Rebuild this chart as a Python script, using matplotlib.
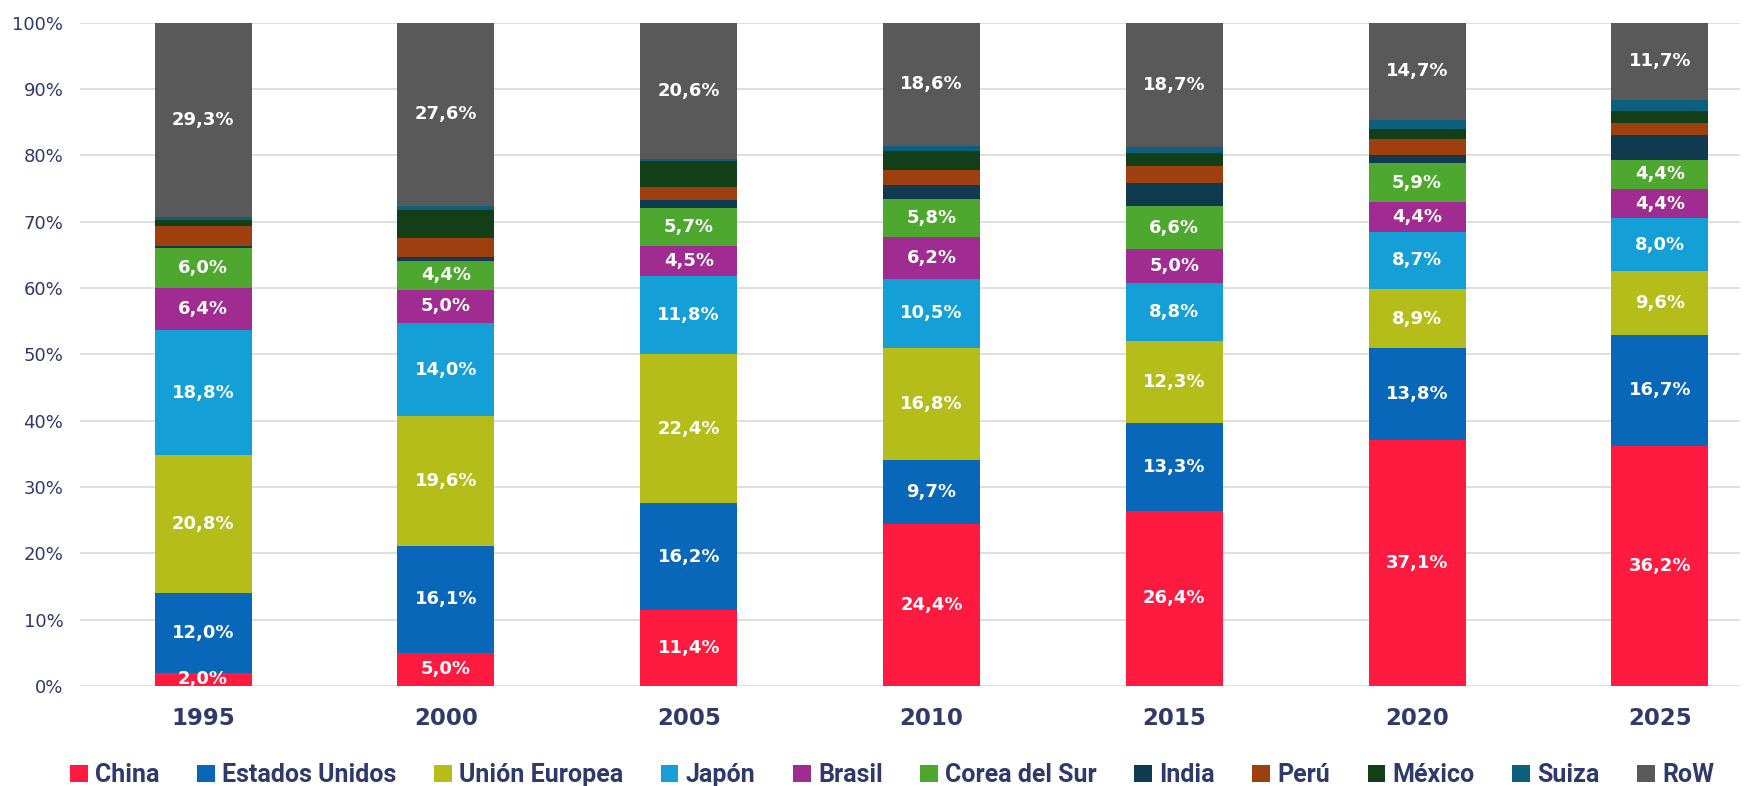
import matplotlib.pyplot as plt
import numpy as np
from matplotlib import rcParams

rcParams['font.family'] = ['DejaVu Sans']

years = ["1995", "2000", "2005", "2010", "2015", "2020", "2025"]

# cuota por país (%)
china = [2.0, 5.0, 11.4, 24.4, 26.4, 37.1, 36.2]
eeuu = [12.0, 16.1, 16.2, 9.7, 13.3, 13.8, 16.7]
ue = [20.8, 19.6, 22.4, 16.8, 12.3, 8.9, 9.6]
japon = [18.8, 14.0, 11.8, 10.5, 8.8, 8.7, 8.0]
brasil = [6.4, 5.0, 4.5, 6.2, 5.0, 4.4, 4.4]
corea = [6.0, 4.4, 5.7, 5.8, 6.6, 5.9, 4.4]
india = [0.3, 0.6, 1.2, 2.1, 3.4, 1.3, 3.7]
peru = [3.1, 2.8, 2.0, 2.2, 2.6, 2.4, 1.9]
mexico = [0.8, 4.3, 3.9, 2.9, 1.9, 1.5, 1.8]
suiza = [0.5, 0.6, 0.3, 0.8, 1.0, 1.3, 1.6]
row = [29.3, 27.6, 20.6, 18.6, 18.7, 14.7, 11.7]

series = [
    ("China", china, "#FF1A40", True),
    ("Estados Unidos", eeuu, "#0867B9", True),
    ("Unión Europea", ue, "#B5BD1B", True),
    ("Japón", japon, "#14A0D6", True),
    ("Brasil", brasil, "#A02B91", True),
    ("Corea del Sur", corea, "#4EA72E", True),
    ("India", india, "#0F3A4F", False),
    ("Perú", peru, "#9E3F10", False),
    ("México", mexico, "#123F17", False),
    ("Suiza", suiza, "#0C5F7D", False),
    ("RoW", row, "#595959", True),
]

navy = "#2F3A6B"

fig = plt.figure(figsize=(17.6, 7.86), dpi=100)
ax = fig.add_axes([80 / 1760, 1 - 686 / 786, 1660 / 1760, (686 - 22.5) / 786])

x = np.arange(len(years))
bottom = np.zeros(len(years))
for name, vals, color, show in series:
    vals = np.array(vals)
    ax.bar(x, vals, 0.4, bottom=bottom, color=color, label=name, zorder=2)
    if show:
        for i, v in enumerate(vals):
            ax.text(x[i], bottom[i] + v / 2, f"{v:.1f}%".replace(".", ","),
                    ha='center', va='center', color='white', fontsize=13,
                    fontweight='bold', zorder=3)
    bottom += vals

ax.set_xlim(-0.507, 6.33)
ax.set_ylim(0, 100)
ax.set_yticks(range(0, 101, 10))
ax.set_yticklabels([f"{v}%" for v in range(0, 101, 10)])
ax.set_xticks(x)
ax.set_xticklabels(years)
ax.grid(axis='y', color='#D9D9D9', linewidth=1.2, zorder=0)
ax.set_axisbelow(True)
for s in ax.spines.values():
    s.set_visible(False)
ax.tick_params(axis='y', length=0, labelsize=13, labelcolor=navy, pad=12)
ax.tick_params(axis='x', length=0, labelsize=16.5, labelcolor=navy, pad=15)
for t in ax.get_xticklabels():
    t.set_fontweight('bold')

leg = fig.legend(loc='lower center', bbox_to_anchor=(0.507, -0.03), ncol=11,
                 frameon=False, handlelength=0.7, handleheight=0.7,
                 handletextpad=0.3, columnspacing=1.5,
                 prop={'family': 'Roboto', 'weight': 'bold', 'size': 18})
for t in leg.get_texts():
    t.set_color(navy)

fig.savefig("out.png", dpi=100)
